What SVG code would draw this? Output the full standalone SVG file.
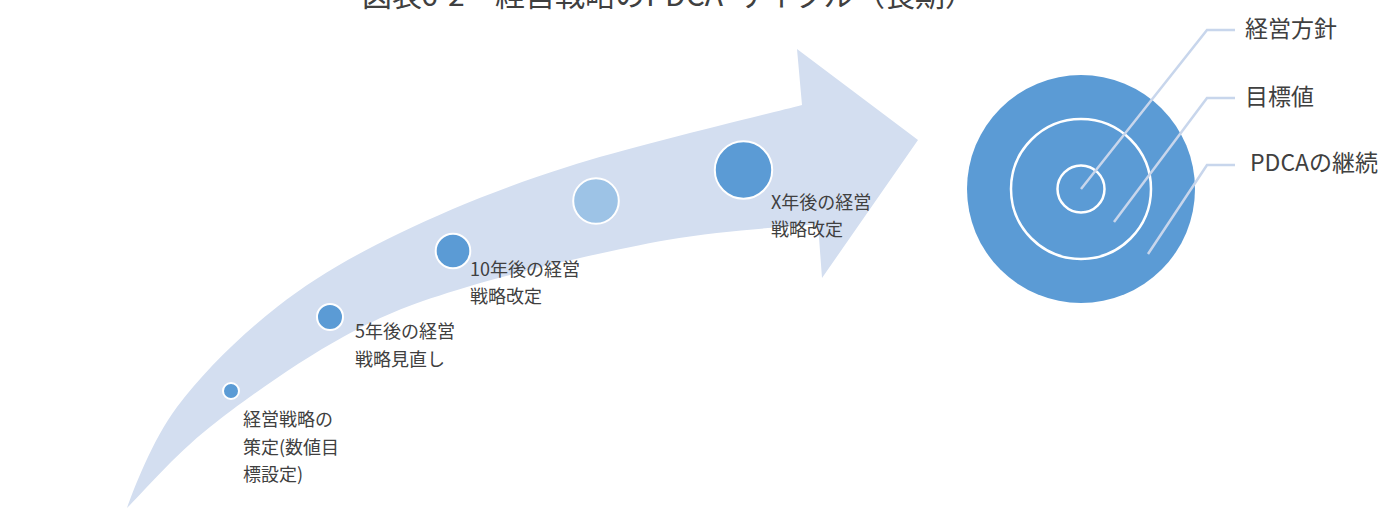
<svg xmlns="http://www.w3.org/2000/svg" width="1389" height="509" viewBox="0 0 1389 509">
  <style>
    text { font-family: "Noto Sans CJK JP", "Noto Sans", sans-serif; fill: #404040; }
    .lbl { font-size: 18px; }
    .rlbl { font-size: 23px; }
    .title { font-size: 30px; }
    .dot { fill: #5B9BD5; stroke: #FFFFFF; stroke-width: 2; }
    .dot-light { fill: #9DC3E6; stroke: #FFFFFF; stroke-width: 2; }
    .ring { fill: none; stroke: #FFFFFF; stroke-width: 2.5; }
    .leader { fill: none; stroke: #C8D6EC; stroke-width: 2.5; }
  </style>
  <rect width="1389" height="509" fill="#FFFFFF"/>

  <g id="title">
    <text class="title" y="5.5"><tspan x="362">図表</tspan><tspan x="421">6-2</tspan><tspan x="495">経営戦略の</tspan><tspan x="646">PDCA</tspan><tspan x="735">サイクル</tspan><tspan x="855">（長期）</tspan></text>
  </g>

  <g id="arrow">
    <path fill="#D3DEF0" d="M127,508 C133,491 152,440.5 177,407 C202,373.5 239.8,336 277,307 C314.2,278 351.7,256.3 400,233 C448.3,209.7 500,188.3 567,167 C634,145.7 762.8,115.3 802,105 L797,49 L918,140 L822,278 L818,224 C794.5,226.7 725.8,229.5 667,240 C608.2,250.5 521,270.8 467,287 C413,303.2 385.8,313.7 343,337 C300.2,360.3 246,398.5 210,427 C174,455.5 140.8,494.5 127,508 Z"/>
  </g>

  <g id="step1">
    <circle class="dot" cx="231" cy="391" r="8"/>
    <text class="lbl"><tspan x="243" y="426">経営戦略の</tspan><tspan x="243" y="454">策定(数値目</tspan><tspan x="243" y="481">標設定)</tspan></text>
  </g>
  <g id="step2">
    <circle class="dot" cx="330" cy="317" r="13"/>
    <text class="lbl"><tspan x="355" y="338">5年後の経営</tspan><tspan x="355" y="366">戦略見直し</tspan></text>
  </g>
  <g id="step3">
    <circle class="dot" cx="453" cy="251" r="17.3"/>
    <text class="lbl"><tspan x="470" y="276">10年後の経営</tspan><tspan x="470" y="303">戦略改定</tspan></text>
  </g>
  <g id="step4">
    <circle class="dot-light" cx="596" cy="201" r="22.8"/>
  </g>
  <g id="step5">
    <circle class="dot" cx="743.5" cy="170" r="28.7"/>
    <text class="lbl"><tspan x="771" y="209">X年後の経営</tspan><tspan x="771" y="236">戦略改定</tspan></text>
  </g>

  <g id="target">
    <circle cx="1081" cy="189" r="114" fill="#5B9BD5"/>
    <circle class="ring" cx="1081" cy="189" r="70"/>
    <circle class="ring" cx="1081" cy="189" r="23.5"/>
  </g>

  <g id="connectors">
    <polyline class="leader" points="1081,189 1207,30 1235,30"/>
    <polyline class="leader" points="1114,222 1207,98 1235,98"/>
    <polyline class="leader" points="1148,254 1207,165 1235,165"/>
  </g>

  <g id="label-policy"><text class="rlbl" x="1245" y="37">経営方針</text></g>
  <g id="label-target"><text class="rlbl" x="1245" y="105">目標値</text></g>
  <g id="label-pdca"><text class="rlbl" x="1250" y="171">PDCAの継続</text></g>
</svg>
